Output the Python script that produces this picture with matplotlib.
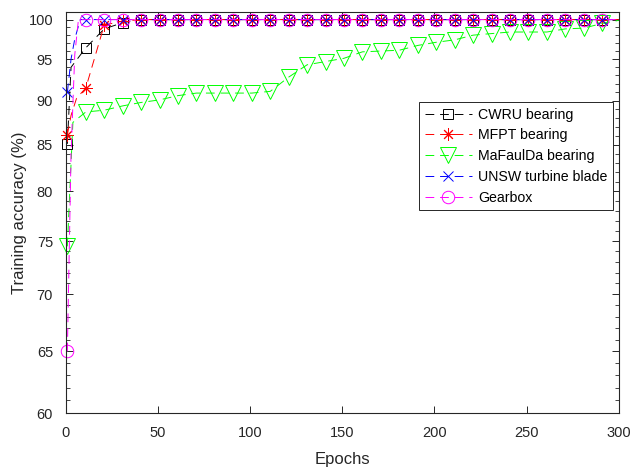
"""Training accuracy per epoch for five fault-diagnosis datasets (MATLAB-style semilogy)."""

import matplotlib

matplotlib.use("Agg")

import matplotlib.pyplot as plt
from matplotlib.ticker import FixedLocator, NullFormatter

# --- data --------------------------------------------------------------------
# values at the marked epochs (every 10th epoch) plus the final epoch 300
epochs = [1, 11, 21, 31, 41, 51, 61, 71, 81, 91, 101, 111, 121, 131, 141,
          151, 161, 171, 181, 191, 201, 211, 221, 231, 241, 251, 261, 271,
          281, 291, 300]

cwru = [85.1, 96.4, 98.8, 99.6, 100, 100, 100, 100, 100, 100, 100, 100, 100,
        100, 100, 100, 100, 100, 100, 100, 100, 100, 100, 100, 100, 100, 100,
        100, 100, 100, 100]
mfpt = [86.1, 91.5, 99.3, 99.8, 100, 100, 100, 100, 100, 100, 100, 100, 100,
        100, 100, 100, 100, 100, 100, 100, 100, 100, 100, 100, 100, 100, 100,
        100, 100, 100, 100]
mafaulda = [74.5, 88.7, 88.9, 89.4, 89.8, 90.1, 90.6, 90.9, 90.9, 90.9, 90.9,
            91.1, 92.8, 94.3, 94.7, 95.1, 95.9, 96.0, 96.1, 96.7, 97.1, 97.4,
            98.0, 98.2, 98.4, 98.4, 98.4, 98.8, 98.9, 99.5, 99.9]
unsw = [91.0, 100, 100, 100, 100, 100, 100, 100, 100, 100, 100, 100, 100, 100,
        100, 100, 100, 100, 100, 100, 100, 100, 100, 100, 100, 100, 100, 100,
        100, 100, 100]
gearbox = [65.0, 100, 100, 100, 100, 100, 100, 100, 100, 100, 100, 100, 100,
           100, 100, 100, 100, 100, 100, 100, 100, 100, 100, 100, 100, 100, 100,
           100, 100, 100, 100]

# unmarked points of the steep first few epochs
cwru_early = ([3], [94.0])
mfpt_early = ([3, 6], [88.3, 90.3])
mafaulda_early = ([4], [87.5])
unsw_early = ([3, 5, 8], [95.0, 97.5, 100])
gearbox_early = ([3, 5, 7], [84.0, 95.5, 100])

labels = ["CWRU bearing", "MFPT bearing", "MaFaulDa bearing",
          "UNSW turbine blade", "Gearbox"]

major_yticks = [60, 65, 70, 75, 80, 85, 90, 95, 100]
xticks = [0, 50, 100, 150, 200, 250, 300]


def merge(main_x, main_y, extra):
    """Join marked points with extra early points; return x, y, marker idx."""
    pts = [(x, y, True) for x, y in zip(main_x, main_y)]
    pts += [(x, y, False) for x, y in zip(*extra)]
    pts.sort(key=lambda p: p[0])
    xs = [p[0] for p in pts]
    ys = [p[1] for p in pts]
    # the final epoch carries no marker
    marks = [i for i, p in enumerate(pts) if p[2] and p[0] != main_x[-1]]
    return xs, ys, marks


plt.rcParams["font.family"] = ["Liberation Sans", "DejaVu Sans"]

fig = plt.figure(figsize=(6.33, 4.68), dpi=100)
ax = fig.add_axes([0.1035, 0.1175, 0.874, 0.857])

series = [
    (cwru, cwru_early, "k", "s", 6.5),
    (mfpt, mfpt_early, "r", (8, 2, 0), 9),
    (mafaulda, mafaulda_early, "#00ff00", "v", 11),
    (unsw, unsw_early, "b", "x", 7.5),
    (gearbox, gearbox_early, "#ff00ff", "o", 9),
]

for (values, early, color, marker, size), label in zip(series, labels):
    xs, ys, marks = merge(epochs, values, early)
    ax.plot(xs, ys, color=color, linewidth=0.7, linestyle=(0, (9, 6)),
            marker=marker, markersize=size, markerfacecolor="none",
            markeredgecolor=color, markeredgewidth=0.7, markevery=marks,
            label=label, clip_on=False)

ax.set_yscale("log")
ax.set_xlim(0, 300)
ax.set_ylim(60, 101)
ax.set_xticks(xticks)
ax.yaxis.set_major_locator(FixedLocator(major_yticks))
ax.set_yticklabels([str(v) for v in major_yticks])
ax.yaxis.set_minor_locator(FixedLocator(list(range(61, 101))))
ax.yaxis.set_minor_formatter(NullFormatter())
ax.xaxis.set_minor_locator(FixedLocator([]))

ax.tick_params(which="both", direction="in", top=True, right=True,
               color="#262626", labelcolor="#262626", labelsize=10.5)
ax.tick_params(which="major", length=5, width=0.7, pad=9)
ax.tick_params(which="minor", length=3, width=0.6)
for spine in ax.spines.values():
    spine.set_linewidth(0.8)
    spine.set_color("#262626")

ax.set_xlabel("Epochs", fontsize=12, color="#262626", labelpad=9)
ax.set_ylabel("Training accuracy (%)", fontsize=12, color="#262626",
              labelpad=1)

legend = ax.legend(loc="upper right", bbox_to_anchor=(0.9897, 0.7756),
                   borderaxespad=0, fancybox=False, framealpha=1,
                   edgecolor="#262626", fontsize=10.2, handlelength=3.3,
                   handletextpad=0.45, labelspacing=0.48, borderpad=0.4)
legend.get_frame().set_linewidth(0.7)

fig.savefig("out.png", dpi=100)
